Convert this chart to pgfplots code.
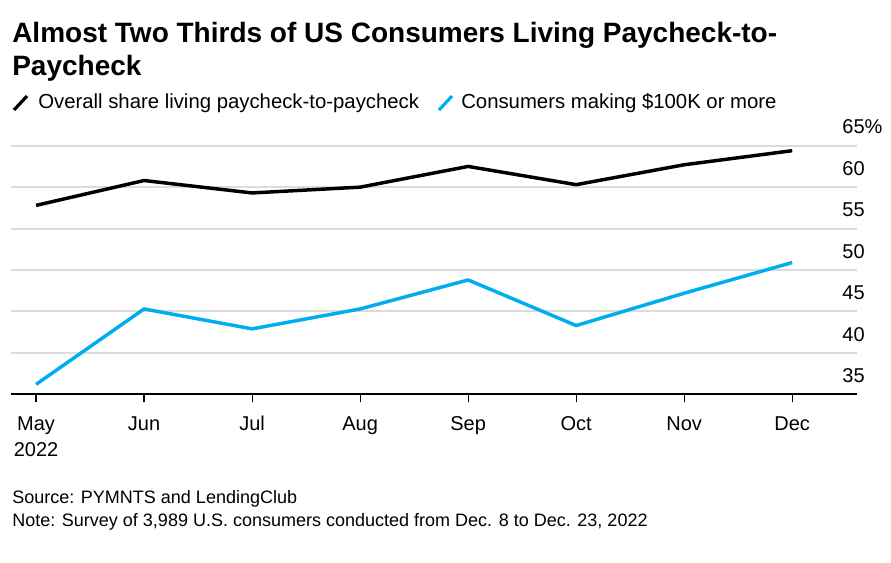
\documentclass[border=0pt]{standalone}
\usepackage{fontspec}
\setmainfont{Liberation Sans}
\usepackage{pgfplots}
\pgfplotsset{compat=1.18}
\definecolor{bblue}{RGB}{0,174,239}
\definecolor{gridgray}{RGB}{220,220,220}
\newcommand{\tl}{\rule{0pt}{11pt}}
\begin{document}
\begin{tikzpicture}[x=0.75pt,y=-0.75pt]
\path[use as bounding box] (0,0) rectangle (891,562);
% title
\node[anchor=base west, inner sep=0pt, font=\fontsize{21}{25}\selectfont\bfseries] at (12,42) {Almost Two Thirds of US Consumers Living Paycheck-to-};
\node[anchor=base west, inner sep=0pt, font=\fontsize{21}{25}\selectfont\bfseries] at (12,75) {Paycheck};
% legend
\draw[line width=2.4pt, black] (14,110) -- (27,96);
\node[anchor=base west, inner sep=0pt, font=\fontsize{15.25}{18}\selectfont] at (38,108) {Overall share living paycheck-to-paycheck};
\draw[line width=2.4pt, bblue] (439,110) -- (452,96);
\node[anchor=base west, inner sep=0pt, font=\fontsize{15.25}{18}\selectfont] at (461,108) {Consumers making \$100K or more};
% source
\node[anchor=base west, inner sep=0pt, font=\fontsize{13.5}{16}\selectfont] at (12,503) {Source: PYMNTS and LendingClub};
\node[anchor=base west, inner sep=0pt, font=\fontsize{13.5}{16}\selectfont] at (12,526) {Note: Survey of 3,989 U.S. consumers conducted from Dec. 8 to Dec. 23, 2022};
\coordinate (O) at (11,394.3);
\begin{axis}[
  at={(O)}, anchor=south west,
  scale only axis, width=634.5pt, height=186.45pt,
  xmin=-0.232, xmax=7.6, ymin=35, ymax=65,
  axis x line*=bottom, axis y line*=right,
  y axis line style={draw=none},
  x axis line style={line width=1.5pt, black},
  xtick={0,...,7},
  xticklabels={\tl May\\2022,\tl Jun,\tl Jul,\tl Aug,\tl Sep,\tl Oct,\tl Nov,\tl Dec},
  tick align=outside,
  major tick length=6pt,
  xtick style={black, line width=0.9pt},
  xticklabel style={align=center, anchor=north, inner sep=0pt, yshift=-9.75pt, font=\fontsize{15}{19.5}\selectfont},
  ytick={35,40,45,50,55,60,65},
  yticklabels={35,40,45,50,55,60,65\rlap{\%}},
  ytick style={draw=none},
  yticklabel pos=right,
  yticklabel style={anchor=base east, inner sep=0pt, font=\fontsize{15}{18}\selectfont, yshift=8.8pt},
  ymajorgrids, grid style={gridgray, line width=1.5pt},
  clip=false,
]
\addplot[black, line width=2.6pt, line join=round] coordinates {
(0,57.8) (1,60.8) (2,59.3) (3,60.0) (4,62.5) (5,60.3) (6,62.7) (7,64.4)};
\addplot[bblue, line width=2.6pt, line join=round] coordinates {
(0,36.2) (1,45.3) (2,42.9) (3,45.3) (4,48.8) (5,43.3) (6,47.2) (7,50.9)};
\end{axis}
\end{tikzpicture}
\end{document}
